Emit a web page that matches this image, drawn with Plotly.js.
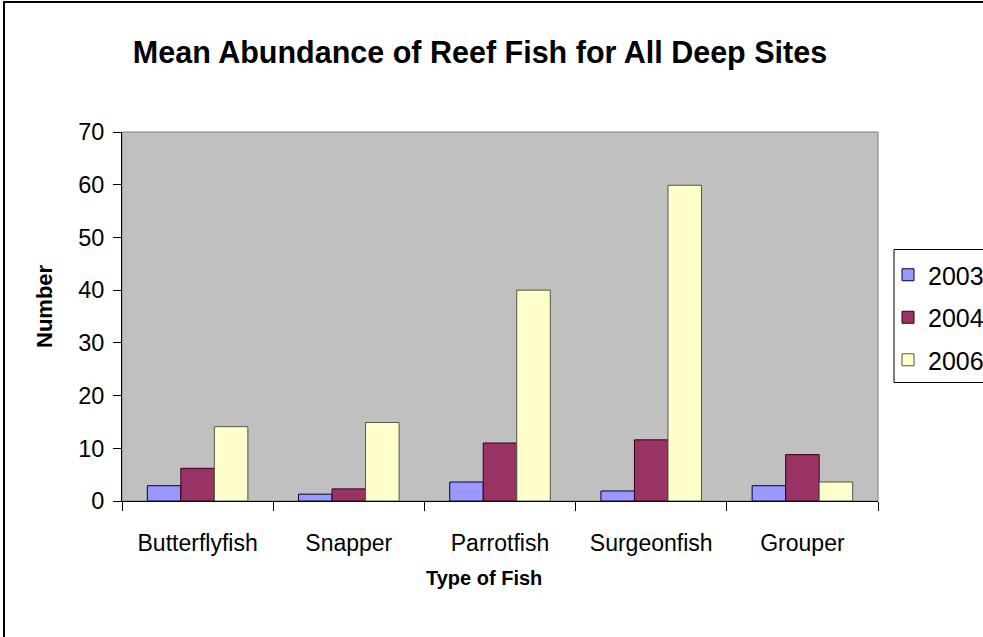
<!DOCTYPE html>
<html>
<head>
<meta charset="utf-8">
<script src="https://cdn.plot.ly/plotly-3.0.1.min.js"></script>
<style>
  html, body { margin: 0; padding: 0; background: #fff; overflow: hidden; }
  #chart { width: 983px; height: 637px; position: relative; }
  #frame { position: absolute; left: 3px; top: 1px; width: 1000px; height: 700px;
           border-left: 2px solid #000; border-top: 2px solid #000; pointer-events: none; z-index: 10; }
</style>
</head>
<body>
<div id="chart"></div>
<div id="frame"></div>
<script>
const categories = ["Butterflyfish", "Snapper", "Parrotfish", "Surgeonfish", "Grouper"];
const years = ["2003", "2004", "2006"];
const values2003 = [2.9, 1.3, 3.6, 1.9, 2.9];
const values2004 = [6.2, 2.3, 11.0, 11.6, 8.8];
const values2006 = [14.1, 14.9, 40.0, 59.9, 3.6];
const yTicks = [0, 10, 20, 30, 40, 50, 60, 70];

const series = [values2003, values2004, values2006];
const colors = ["#9999FF", "#993366", "#FFFFCC"];
const lineColors = ["#000033", "#330011", "#555544"];

const FONT = "Liberation Sans, Arial, sans-serif";
const W = 983, H = 637;
const M = { l: 122, r: 105, t: 132, b: 136 };
const PW = W - M.l - M.r, PH = H - M.t - M.b;

const traces = series.map((vals, i) => ({
  type: "bar",
  name: years[i],
  legendgroup: years[i],
  x: categories,
  y: vals,
  marker: { color: colors[i], line: { color: lineColors[i], width: 1 } },
  hoverinfo: "x+y+name"
}));

const px = x => (x - M.l) / PW;
const py = y => (H - M.b - y) / PH;

const layout = {
  width: W,
  height: H,
  paper_bgcolor: "#FFFFFF",
  plot_bgcolor: "#C0C0C0",
  font: { family: FONT, color: "#000" },
  margin: { l: M.l, r: M.r, t: M.t, b: M.b, autoexpand: false },
  title: {
    text: "<b>Mean Abundance of Reef Fish for All Deep Sites</b>",
    font: { family: FONT, size: 30.5, color: "#000" },
    x: 480 / W, xanchor: "center", xref: "container",
    y: 1 - 52 / H, yanchor: "middle", yref: "container"
  },
  barmode: "group",
  bargap: 0.335,
  bargroupgap: 0,
  showlegend: true,
  legend: {
    x: px(888), xanchor: "left",
    y: py(252), yanchor: "top",
    bgcolor: "rgba(0,0,0,0)",
    borderwidth: 0,
    font: { family: FONT, size: 25, color: "#000" },
    tracegroupgap: 7
  },
  xaxis: {
    type: "category",
    categoryorder: "array",
    categoryarray: categories,
    range: [-0.5, 4.5],
    tickson: "boundaries",
    ticks: "outside",
    ticklen: 9,
    tickcolor: "#000",
    tickwidth: 1,
    showline: true,
    linecolor: "#000",
    linewidth: 1,
    showgrid: false,
    zeroline: false,
    ticklabelstandoff: 21,
    tickfont: { family: FONT, size: 23, color: "#000" }
  },
  yaxis: {
    range: [0, 70],
    tickvals: yTicks,
    ticktext: yTicks.map(String),
    ticks: "outside",
    ticklen: 8,
    tickcolor: "#000",
    tickwidth: 1,
    showline: true,
    linecolor: "#000",
    linewidth: 1,
    showgrid: false,
    zeroline: false,
    ticklabelstandoff: 4,
    tickfont: { family: FONT, size: 23.5, color: "#000" }
  },
  annotations: [
    {
      text: "<b>Type of Fish</b>", xref: "paper", yref: "paper",
      x: px(484), y: py(578), xanchor: "center", yanchor: "middle",
      showarrow: false, font: { family: FONT, size: 20, color: "#000" }
    },
    {
      text: "<b>Number</b>", xref: "paper", yref: "paper",
      x: px(44), y: py(306), xanchor: "center", yanchor: "middle", textangle: -90,
      showarrow: false, font: { family: FONT, size: 22, color: "#000" }
    }
  ],
  shapes: [
    {
      type: "rect", xref: "paper", yref: "paper", x0: 0, x1: 1, y0: 0, y1: 1,
      line: { color: "#808080", width: 1 }, fillcolor: "rgba(0,0,0,0)", layer: "below"
    },
    {
      type: "rect", xref: "paper", yref: "paper",
      x0: px(894), x1: px(1010), y0: py(382.5), y1: py(249.5),
      line: { color: "#000000", width: 1 }, fillcolor: "#FFFFFF", layer: "above"
    }
  ]
};

Plotly.newPlot("chart", traces, layout, { displayModeBar: false, staticPlot: true });
</script>
</body>
</html>
